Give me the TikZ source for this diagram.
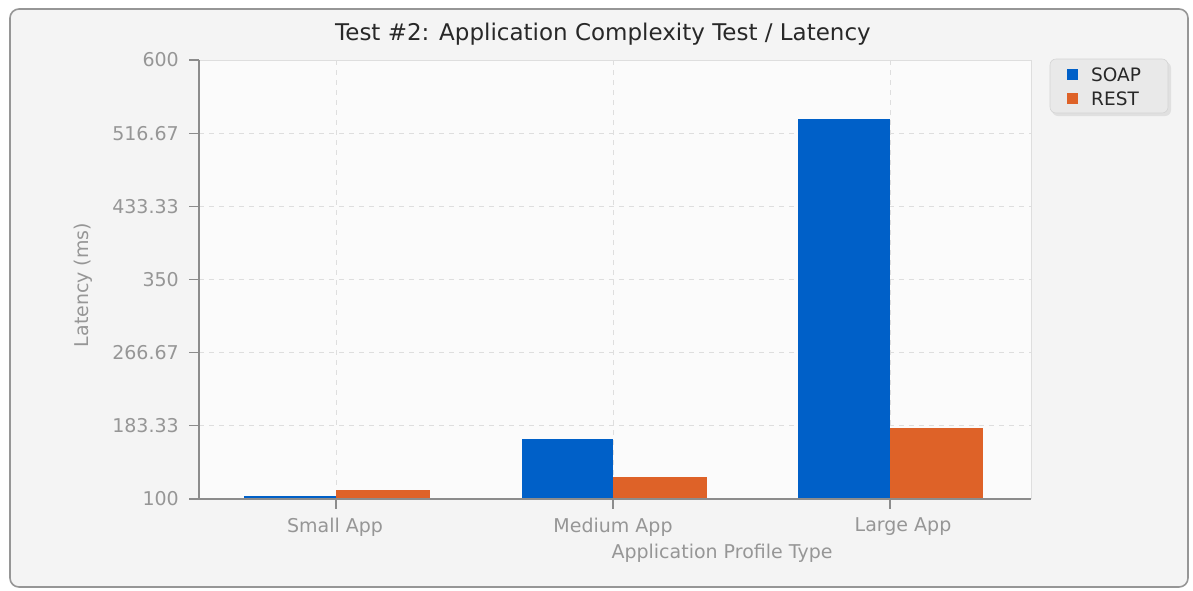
\documentclass[tikz,border=0pt]{standalone}
\usepackage{fontspec}
\setmainfont{DejaVu Sans}
\definecolor{soap}{RGB}{0,96,200}
\definecolor{rest}{RGB}{222,98,40}
\definecolor{panel}{RGB}{244,244,244}
\definecolor{plotbg}{RGB}{251,251,251}
\definecolor{framec}{RGB}{150,150,150}
\definecolor{tickc}{RGB}{150,150,150}
\definecolor{axisc}{RGB}{140,140,140}
\definecolor{gridc}{RGB}{222,222,222}
\definecolor{titlec}{RGB}{40,40,40}
\definecolor{legbg}{RGB}{233,233,233}
\tikzset{
  ticklabel/.style={font=\fontsize{19}{19}\selectfont, text=tickc, inner sep=0pt},
  catlabel/.style={font=\fontsize{19}{19}\selectfont, text=tickc, inner sep=0pt},
  axislabel/.style={font=\fontsize{19}{19}\selectfont, text=tickc, inner sep=0pt},
  titlelabel/.style={font=\fontsize{23}{23}\selectfont, text=titlec, inner sep=0pt},
  legtext/.style={font=\fontsize{18.5}{18.5}\selectfont, text=titlec, inner sep=0pt, anchor=west},
  gridline/.style={draw=gridc, line width=1pt, dash pattern=on 5pt off 5pt},
  axisline/.style={draw=axisc, line width=1.5pt},
  tickmark/.style={draw=axisc, line width=1.2pt},
  soapbar/.style={fill=soap, draw=none},
  restbar/.style={fill=rest, draw=none},
}
\begin{document}
\begin{tikzpicture}[x=1pt, y=-1pt]
\useasboundingbox (0,0) rectangle (1193,590);
% outer panel
\fill[white] (0,0) rectangle (1193,590);
\draw[framec, line width=1.6pt, fill=panel, rounded corners=9pt] (10,9) rectangle (1188,587);
% title
\node[titlelabel] (title) at (603,34) {Test \#2: Application Complexity Test / Latency};
% plot area
\fill[plotbg] (199,60) rectangle (1031,499);
\draw[gridc, line width=1pt] (199,60) -- (1031,60) -- (1031,499);
% horizontal grid
\foreach \yy in {60, 133.2, 206.3, 279.5, 352.7, 425.8}{
  \draw[gridline] (199,\yy) -- (1031,\yy);
}
% vertical grid at category centres
\foreach \xx in {336,613,890}{
  \draw[gridline] (\xx,60) -- (\xx,499);
}
% bars
\path[soapbar] (244,499) rectangle (336,496);
\path[restbar] (336,499) rectangle (430,490);
\path[soapbar] (522,499) rectangle (613,439);
\path[restbar] (613,499) rectangle (707,476.5);
\path[soapbar] (798,499) rectangle (890,119);
\path[restbar] (890,499) rectangle (983,428);
% axes
\draw[axisline] (199,60) -- (199,499) -- (1031,499);
\foreach \yy/\lab/\nm in {60/600/t6, 133.2/516.67/t5, 206.3/433.33/t4, 279.5/350/t3, 352.7/266.67/t2, 425.8/183.33/t1, 499/100/t0}{
  \draw[tickmark] (189,\yy) -- (199,\yy);
  \node[ticklabel, anchor=east] (\nm) at (179,\yy) {\lab};
}
\foreach \xx in {336,613,890}{
  \draw[tickmark] (\xx,499) -- (\xx,509);
}
% category labels
\node[catlabel] (small) at (335,527) {Small App};
\node[catlabel] (medium) at (613,527) {Medium App};
\node[catlabel] (large) at (903,527) {Large App};
% axis titles
\node[axislabel] (xlab) at (722,553) {Application Profile Type};
\node[axislabel, rotate=90] (ylab) at (83,285) {Latency (ms)};
% legend
\fill[black!12, rounded corners=6pt] (1052,62) rectangle (1171,116);
\draw[legbg!80!gray, fill=legbg, line width=0.6pt, rounded corners=6pt] (1050,59) rectangle (1168,113);
\fill[soap] (1067,69) rectangle (1078,80);
\fill[rest] (1067,93) rectangle (1078,104);
\node[legtext] (lsoap) at (1091,75) {SOAP};
\node[legtext] (lrest) at (1091,98.5) {REST};
\end{tikzpicture}
\end{document}
